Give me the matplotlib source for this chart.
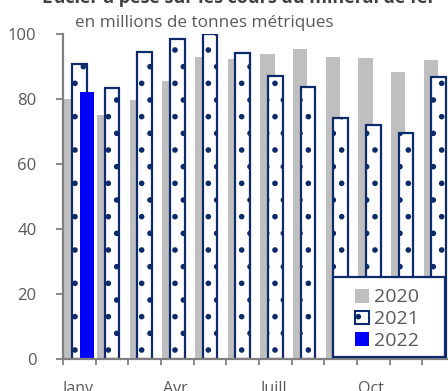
import numpy as np
import matplotlib
matplotlib.use("Agg")
import matplotlib.pyplot as plt
from matplotlib.patches import Patch, Rectangle

# Data (millions de tonnes métriques)
months = ['Janv.', 'Févr.', 'Mars', 'Avr.', 'Mai', 'Juin',
          'Juill.', 'Août', 'Sept.', 'Oct.', 'Nov.', 'Déc.']
shown_labels = {0: 'Janv.', 3: 'Avr.', 6: 'Juill.', 9: 'Oct.'}
v2020 = [80, 75, 79.5, 85.4, 92.8, 92.1, 93.8, 95.2, 92.9, 92.6, 88.2, 91.8]
v2021 = [90.5, 83.2, 94.3, 98.2, 99.8, 94.1, 87.0, 83.6, 73.9, 71.9, 69.5, 86.5]
v2022 = [82.0]

plt.rcParams['font.family'] = ['Open Sans', 'DejaVu Sans']
plt.rcParams['hatch.linewidth'] = 1.6

GRAY = '#bfbfbf'
NAVY = '#0d2a6b'
BLUE = '#0000ff'
TXT = '#595959'
AX = '#808080'

fig = plt.figure(figsize=(4.48, 3.91), dpi=100)
ax = fig.add_axes([63/448, 32/391, 392/448, 325.5/391])

x = np.arange(len(months))
w = 0.44
ax.bar(x - 0.24, v2020, w, color=GRAY, linewidth=0, zorder=2)
ax.bar(x, v2021, w, facecolor='white', edgecolor=NAVY, hatch='.',
       linewidth=1.6, zorder=3)
ax.bar(np.arange(len(v2022)) + 0.24, v2022, w, color=BLUE, linewidth=0, zorder=4)

ax.set_xlim(-0.5, 11.5)
ax.set_ylim(0, 100)
ax.set_yticks(range(0, 101, 20))
ax.set_xticks(np.arange(-0.5, 12, 1))
ax.set_xticklabels([])
ax.set_xticks(list(shown_labels.keys()), minor=True)
ax.set_xticklabels(list(shown_labels.values()), minor=True)
ax.tick_params(axis='x', which='minor', length=0, pad=16, labelsize=11.5, labelcolor=TXT)
ax.tick_params(axis='x', which='major', length=4, width=1.3, color=AX, direction='out')
ax.tick_params(axis='y', length=5, width=1.3, color=AX, labelsize=12, labelcolor=TXT, pad=14)

for s in ['top', 'right']:
    ax.spines[s].set_visible(False)
for s in ['left', 'bottom']:
    ax.spines[s].set_color(AX)
    ax.spines[s].set_linewidth(1.6)
ax.spines['bottom'].set_zorder(5)

# legend box drawn separately (Excel-style wide frame)
ax.add_patch(Rectangle((0.689, 0.006), 0.285, 0.246, transform=ax.transAxes,
                       facecolor='white', edgecolor=NAVY, linewidth=1.6,
                       zorder=9, clip_on=False))
handles = [Patch(facecolor=GRAY, edgecolor='none', label='2020'),
           Patch(facecolor='white', edgecolor=NAVY, hatch='.', linewidth=1.5, label='2021'),
           Patch(facecolor=BLUE, edgecolor='none', label='2022')]
leg = ax.legend(handles=handles, loc='center', bbox_to_anchor=(0.826, 0.122),
                frameon=False, fontsize=14, labelcolor=TXT, handlelength=0.72,
                handleheight=0.72, handletextpad=0.25, labelspacing=0.2,
                borderpad=0, borderaxespad=0)
leg.set_zorder(10)

fig.text(42/448, 1 - 3/391, 'L’acier a pesé sur les cours du minerai de fer',
         fontsize=13, fontweight='bold', color='#404040', va='baseline')
fig.text(75/448, 1 - 27/391, 'en millions de tonnes métriques',
         fontsize=12.3, color=TXT, va='baseline')

fig.savefig('out.png', dpi=100)
